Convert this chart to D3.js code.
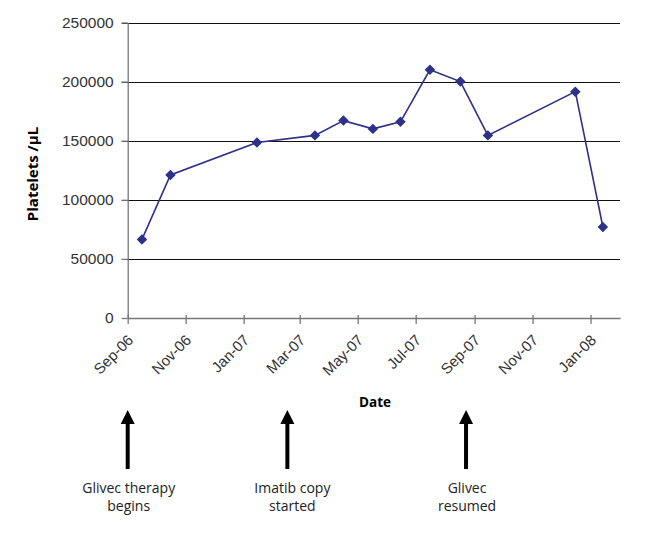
<!DOCTYPE html>
<html>
<head>
<meta charset="utf-8">
<script src="https://cdn.jsdelivr.net/npm/d3@7"></script>
<style>
  body { margin: 0; background: #fff; }
  svg { display: block; }
</style>
</head>
<body>
<script>
// platelet counts
const dates = ['2006-09-16', '2006-10-16', '2007-01-15', '2007-03-17', '2007-04-16', '2007-05-17',
  '2007-06-15', '2007-07-16', '2007-08-17', '2007-09-15', '2007-12-16', '2008-01-14'];
const platelets = [66500, 121000, 148500, 154500, 167000, 160000, 166000, 210000, 200000, 154500, 191500, 77000];
const yTicks = [0, 50000, 100000, 150000, 200000, 250000];
const eventDates = ['2006-09-01', '2007-02-16', '2007-08-23'];
const eventLabels = [['Glivec therapy', 'begins'], ['Imatib copy', 'started'], ['Glivec', 'resumed']];

const W = 648, H = 550;
const LINE_COLOR = '#2e3188';
const AXIS_COLOR = '#777';
const parse = d3.timeParse('%Y-%m-%d');

const points = dates.map((d, i) => ({ date: parse(d), value: platelets[i] }));

const svg = d3.select('body').append('svg')
  .attr('width', W)
  .attr('height', H);

const x = d3.scaleTime()
  .domain([parse('2006-09-01'), parse('2008-02-01')])
  .range([127.7, 620]);

const y = d3.scaleLinear()
  .domain([0, 250000])
  .range([318, 22.5]);

// gridlines
svg.append('g')
  .selectAll('line')
  .data(yTicks.slice(1))
  .enter()
  .append('line')
  .attr('x1', x.range()[0] - 6)
  .attr('x2', x.range()[1])
  .attr('y1', d => Math.round(y(d)) + 0.5)
  .attr('y2', d => Math.round(y(d)) + 0.5)
  .attr('stroke', '#111')
  .attr('stroke-width', 1.2);

// y axis
const yAxis = svg.append('g')
  .attr('transform', `translate(${x.range()[0]},0)`)
  .call(d3.axisLeft(y).tickValues(yTicks).tickSize(6).tickSizeOuter(0).tickFormat(d3.format('d')));
yAxis.selectAll('path, line').attr('stroke', AXIS_COLOR).attr('stroke-width', 1.3);
yAxis.selectAll('text')
  .attr('font-family', 'Liberation Sans, Arial, sans-serif')
  .attr('font-size', 15.5)
  .attr('fill', '#333')
  .attr('x', -14);

// x axis
const xAxis = svg.append('g')
  .attr('transform', `translate(0,${y(0)})`)
  .call(d3.axisBottom(x).ticks(d3.timeMonth.every(2)).tickSize(6).tickSizeOuter(0).tickFormat(d3.timeFormat('%b-%y')));
xAxis.selectAll('path, line').attr('stroke', AXIS_COLOR).attr('stroke-width', 1.3);
xAxis.selectAll('.tick line').attr('y1', -3);
xAxis.selectAll('text')
  .attr('font-family', 'Liberation Sans, Arial, sans-serif')
  .attr('font-size', 15)
  .attr('fill', '#333')
  .attr('text-anchor', 'end')
  .attr('dy', null)
  .attr('y', null)
  .attr('transform', 'translate(6,23) rotate(-45)');

// series line
svg.append('path')
  .datum(points)
  .attr('fill', 'none')
  .attr('stroke', LINE_COLOR)
  .attr('stroke-width', 1.6)
  .attr('d', d3.line().x(d => x(d.date)).y(d => y(d.value)));

// diamond markers
svg.append('g')
  .selectAll('path')
  .data(points)
  .enter()
  .append('path')
  .attr('transform', d => `translate(${x(d.date)},${y(d.value)})`)
  .attr('d', d3.symbol().type(d3.symbolDiamond2).size(70))
  .attr('fill', LINE_COLOR);

// axis titles
svg.append('text')
  .attr('transform', 'translate(38,174) rotate(-90)')
  .attr('text-anchor', 'middle')
  .attr('font-family', 'Open Sans, sans-serif')
  .attr('font-weight', 'bold')
  .attr('font-size', 15)
  .text('Platelets /µL');

svg.append('text')
  .attr('x', 375)
  .attr('y', 407)
  .attr('text-anchor', 'middle')
  .attr('font-family', 'Open Sans, sans-serif')
  .attr('font-weight', 'bold')
  .attr('font-size', 13.5)
  .text('Date');

// event arrows and notes
const events = svg.append('g')
  .selectAll('g')
  .data(eventDates.map((d, i) => ({ date: parse(d), lines: eventLabels[i] })))
  .enter()
  .append('g')
  .attr('transform', d => `translate(${x(d.date)},0)`);

events.append('line')
  .attr('y1', 420)
  .attr('y2', 469)
  .attr('stroke', '#000')
  .attr('stroke-width', 4);

events.append('path')
  .attr('d', 'M0,410 L7,424 L-7,424 Z')
  .attr('fill', '#000');

events.append('text')
  .attr('text-anchor', 'middle')
  .attr('font-family', 'Open Sans, sans-serif')
  .attr('font-size', 14)
  .attr('fill', '#222')
  .selectAll('tspan')
  .data(d => d.lines)
  .enter()
  .append('tspan')
  .attr('x', (d, i, n) => n[0].parentNode.__data__.lines[0] === 'Imatib copy' ? 5 : 1)
  .attr('y', (d, i) => 493 + i * 18)
  .text(d => d);
</script>
</body>
</html>
